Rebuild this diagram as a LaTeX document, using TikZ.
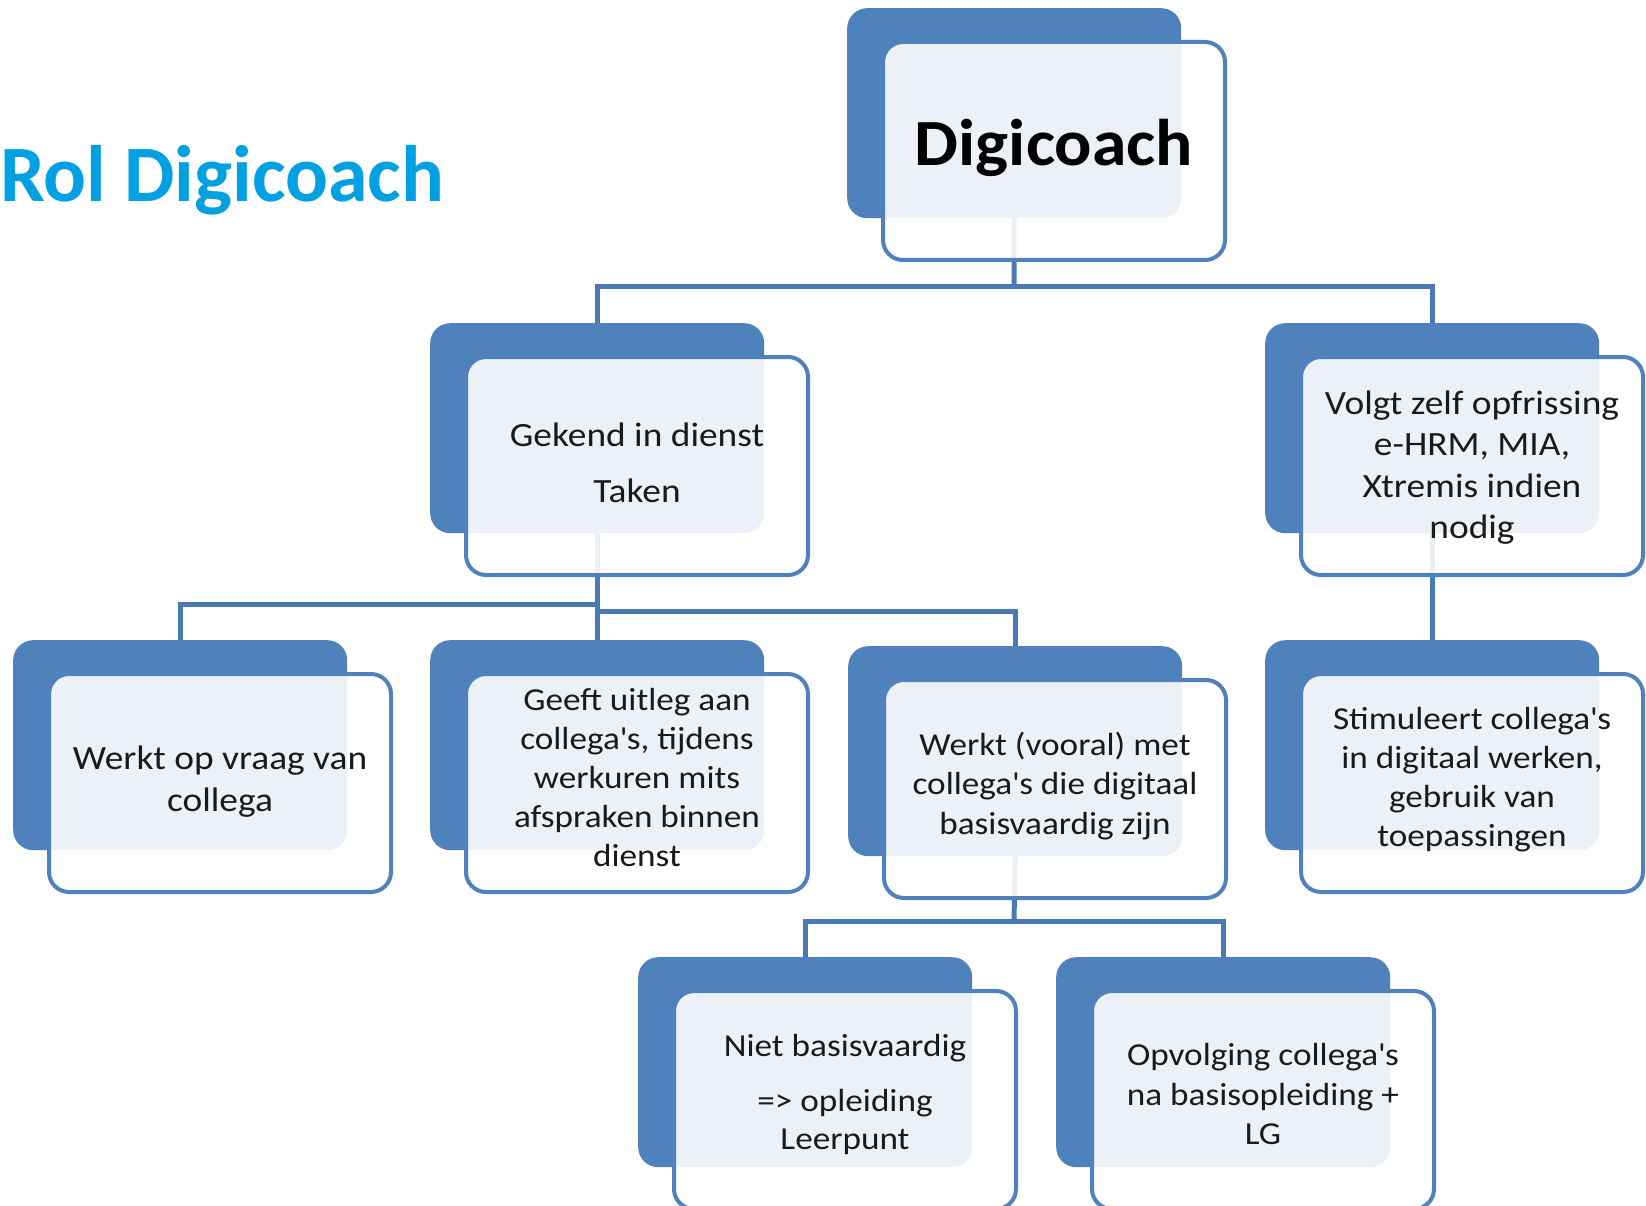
\documentclass[tikz,border=0pt]{standalone}
\usepackage{fontspec}
\setmainfont{Carlito}
\newfontfamily\boxfont[FakeStretch=1.1]{Carlito}
\newfontfamily\headfont[FakeStretch=1.055]{Carlito}
\definecolor{cblue}{HTML}{4F81BD}
\definecolor{clink}{HTML}{4A7AB5}
\definecolor{ctitle}{HTML}{00A0E3}
\definecolor{ctext}{HTML}{1A1A1A}
\newcommand\apo{\textquotesingle}
\begin{document}
\begin{tikzpicture}[x=1pt,y=-1pt,
  backbox/.style={fill=cblue, draw=none, rounded corners=20pt, minimum width=334pt, minimum height=210pt, inner sep=0pt, anchor=north west},
  frontbox/.style={fill=white, fill opacity=0.89, text opacity=1, draw=cblue, draw opacity=1, line width=4pt, rounded corners=20pt, minimum width=342pt, minimum height=218pt, inner sep=0pt, anchor=north west},
  boxtext/.style={text=ctext, align=center, font=\boxfont\fontsize{34}{40}\selectfont, inner sep=0pt},
  smalltext/.style={boxtext, font=\boxfont\fontsize{32}{39.5}\selectfont},
  conn/.style={draw=clink, line width=5pt}
]
\useasboundingbox (0,0) rectangle (1646,1206);
\fill[white] (0,0) rectangle (1646,1206);

\node[anchor=base west, inner sep=0pt, text=ctitle, font=\fontsize{80}{90}\selectfont\bfseries] (title) at (0,202) {Rol Digicoach};

% back boxes
\node[backbox] (Db) at (847,8) {};
\node[backbox] (Gb) at (430,323) {};
\node[backbox] (Vb) at (1265,323) {};
\node[backbox] (Wb) at (13,640) {};
\node[backbox] (Ub) at (430,640) {};
\node[backbox] (Mb) at (848,646) {};
\node[backbox] (Sb) at (1265,640) {};
\node[backbox] (Nb) at (638,957) {};
\node[backbox] (Ob) at (1056,957) {};

% connectors
\coordinate (Dj) at (1014,287);
\draw[conn] (Db.south) -- (Dj);
\draw[conn] (Gb.north) |- (Dj) -| (Vb.north);
\coordinate (Gjl) at (597,604);
\coordinate (Gjr) at (597,611);
\draw[conn] (Gb.south) -- (Ub.north);
\draw[conn] (Wb.north) |- (Gjl);
\draw[conn] (Gjr) -| (Mb.north);
\draw[conn] (Vb.south) -- (Sb.north);
\coordinate (Mj) at (1014,921);
\draw[conn] (Mb.south) -- (Mj);
\draw[conn] (Nb.north) |- (Mj) -| (Ob.north);

% front boxes
\node[frontbox] (Df) at (881,40) {};
\node[frontbox] (Gf) at (464,355) {};
\node[frontbox] (Vf) at (1299,355) {};
\node[frontbox] (Wf) at (47,672) {};
\node[frontbox] (Uf) at (464,672) {};
\node[frontbox] (Mf) at (882,678) {};
\node[frontbox] (Sf) at (1299,672) {};
\node[frontbox] (Nf) at (672,989) {};
\node[frontbox] (Of) at (1090,989) {};

% texts
\node[boxtext, font=\headfont\fontsize{66}{70}\selectfont\bfseries, text=black] (Dt) at ([yshift=3pt]Df.center) {Digicoach};
\node[boxtext] (Gt) at ([yshift=3pt]Gf.center) {Gekend in dienst\\[16pt]Taken};
\node[boxtext, font=\boxfont\fontsize{34}{41.3}\selectfont] (Vt) at ([yshift=-1.5pt]Vf.center) {Volgt zelf opfrissing\\e-HRM, MIA,\\Xtremis indien\\nodig};
\node[boxtext, font=\boxfont\fontsize{34}{42}\selectfont] (Wt) at ([yshift=1pt]Wf.center) {Werkt op vraag van\\collega};
\node[smalltext, font=\boxfont\fontsize{32}{39.2}\selectfont] (Ut) at ([yshift=5.5pt]Uf.center) {Geeft uitleg aan\\collega\apo s, tijdens\\werkuren mits\\afspraken binnen\\dienst};
\node[smalltext] (Mt) at ([yshift=3pt]Mf.center) {Werkt (vooral) met\\collega\apo s die digitaal\\basisvaardig zijn};
\node[smalltext, font=\boxfont\fontsize{32}{39}\selectfont] (St) at ([yshift=3pt]Sf.center) {Stimuleert collega\apo s\\in digitaal werken,\\gebruik van\\toepassingen};
\node[smalltext, font=\boxfont\fontsize{32}{38}\selectfont] (Nt) at ([yshift=5.5pt]Nf.center) {Niet basisvaardig\\[17pt]=> opleiding\\Leerpunt};
\node[smalltext] (Ot) at ([yshift=6pt]Of.center) {Opvolging collega\apo s\\na basisopleiding +\\LG};
\end{tikzpicture}
\end{document}
